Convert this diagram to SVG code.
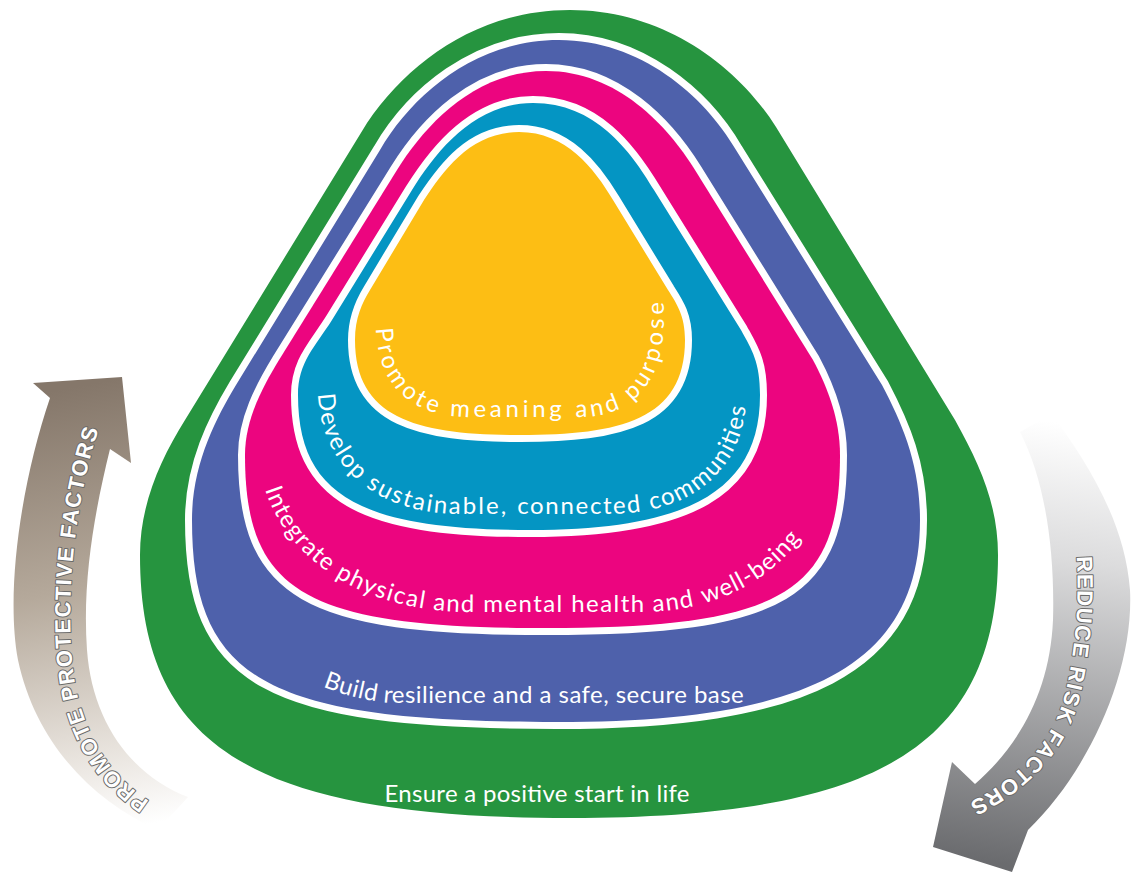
<svg xmlns="http://www.w3.org/2000/svg" width="1135" height="872" viewBox="0 0 1135 872">
<defs>
<style>
.band{stroke:#fff;stroke-width:14;paint-order:stroke;stroke-linejoin:round}
.lbl{font-family:Lato,"Liberation Sans",sans-serif;fill:#fff;font-size:24px}
.arw{font-family:"Liberation Sans",Arial,sans-serif;font-weight:bold;font-size:22px;fill:#fff;stroke:#6a6a6a;stroke-width:2;paint-order:stroke;stroke-linejoin:round}
</style>
<linearGradient id="gL" gradientUnits="userSpaceOnUse" x1="170" y1="820" x2="85" y2="385">
<stop offset="0" stop-color="#ffffff"/>
<stop offset="0.18" stop-color="#e8e3dd"/>
<stop offset="0.55" stop-color="#b5a99b"/>
<stop offset="1" stop-color="#85776a"/>
</linearGradient>
<linearGradient id="gR" gradientUnits="userSpaceOnUse" x1="1040" y1="420" x2="975" y2="860">
<stop offset="0" stop-color="#ffffff"/>
<stop offset="0.3" stop-color="#dcdcdd"/>
<stop offset="1" stop-color="#6a6b6e"/>
</linearGradient>
<path id="tpY" d="M 376,328 C 378,385 410,417 470,417 L 580,417 C 630,417 664,385 664,320 L 664,260"/>
<path id="tpT" d="M 318,392 C 320,470 380,514 460,514 L 610,514 C 690,514 746,470 746,395 L 746,350"/>
<path id="tpM" d="M 262,480 C 285,565 370,612 470,612 L 640,612 C 720,612 785,575 815,515 L 830,485"/>
<path id="tpB" d="M 321,686 Q 355,700 392,703 L 800,703"/>
<path id="tpL" d="M 165,810 C 110,782 78,730 72,660 C 66,590 75,500 100,425 L 110,395"/>
<path id="tpR" d="M 1062,470 C 1082,540 1082,620 1066,690 C 1055,740 1020,778 965,805 L 940,818"/>
</defs>
<rect width="1135" height="872" fill="#ffffff"/>

<g id="arrows">
<path id="arrow-left" d="M 122,377 L 131,463 L 110,449 C 95,510 82,580 87,650 C 92,720 130,775 188,797 L 158,830 C 90,800 35,740 18,660 C 5,590 22,480 50,398 L 33,383 Z" fill="url(#gL)"/>
<path id="arrow-right" d="M 1020,432 L 1052,414 C 1085,460 1125,520 1130,590 C 1134,670 1090,770 1028,830 L 1012,872 L 933,847 L 952,762 L 975,784 C 1020,745 1050,690 1053,620 C 1055,550 1045,480 1020,432 Z" fill="url(#gR)"/>
<text class="arw"><textPath href="#tpL" startOffset="18" textLength="400" lengthAdjust="spacing">PROMOTE PROTECTIVE FACTORS</textPath></text>
<text class="arw"><textPath href="#tpR" startOffset="88" textLength="288" lengthAdjust="spacing">REDUCE RISK FACTORS</textPath></text>
</g>

<g id="green">
<path d="M 570,10 C 480,10 410,60 367,123 L 185,420 C 160,460 140,505 140,555 C 140,745 250,818 570,818 C 880,818 998,745 998,555 C 998,505 980,465 955,420 L 776,127 C 735,62 660,10 570,10 Z" fill="#26943f"/>
<text class="lbl" x="537" y="802" text-anchor="middle" font-size="25" textLength="305" lengthAdjust="spacing">Ensure a positive start in life</text>
</g>

<g id="blue">
<path class="band" d="M 559,40 C 475,40 412,95 380,150 L 236,385 C 215,420 192,465 192,520 C 192,680 266,722 556,722 C 800,722 920,670 920,520 C 920,465 903,425 882,385 L 736,150 C 704,95 640,40 559,40 Z" fill="#4e61ab"/>
<text class="lbl"><textPath href="#tpB" startOffset="2" textLength="423" lengthAdjust="spacing">Build resilience and a safe, secure base</textPath></text>
</g>

<g id="magenta">
<path class="band" d="M 546,71 C 475,71 425,125 397,170 L 279,360 C 262,388 245,420 245,455 C 245,592 305,628 545,628 C 785,628 840,592 840,455 C 840,420 828,388 813,360 L 695,170 C 667,125 617,71 546,71 Z" fill="#ec057f"/>
<text class="lbl"><textPath href="#tpM" startOffset="10" textLength="105" lengthAdjust="spacing">Integrate</textPath></text>
<text class="lbl"><textPath href="#tpM" startOffset="124" textLength="95" lengthAdjust="spacing">physical</textPath></text>
<text class="lbl"><textPath href="#tpM" startOffset="228" textLength="262" lengthAdjust="spacing">and mental health and</textPath></text>
<text class="lbl"><textPath href="#tpM" startOffset="500" textLength="119" lengthAdjust="spacing">well-being</textPath></text>
</g>

<g id="teal">
<path class="band" d="M 533,103 C 475,103 437,150 412,190 L 332,320 C 315,347 298,362 298,395 C 298,495 360,530 530,530 C 690,530 760,490 760,395 C 760,362 752,350 741,330 L 654,190 C 630,150 595,103 533,103 Z" fill="#0495c3"/>
<text class="lbl"><textPath href="#tpT" startOffset="2" textLength="98" lengthAdjust="spacing">Develop</textPath></text>
<text class="lbl"><textPath href="#tpT" startOffset="110" textLength="146" lengthAdjust="spacing">sustainable,</textPath></text>
<text class="lbl"><textPath href="#tpT" startOffset="267" textLength="124" lengthAdjust="spacing">connected</textPath></text>
<text class="lbl"><textPath href="#tpT" startOffset="401" textLength="151" lengthAdjust="spacing">communities</textPath></text>
</g>

<g id="yellow">
<path class="band" d="M 519,132 C 472,132 445,168 424,200 L 370,290 C 362,303 355,318 355,340 C 355,420 420,435 520,435 C 620,435 685,420 685,340 C 685,316 677,304 668,290 L 613,200 C 594,168 566,132 519,132 Z" fill="#fdbe14"/>
<text class="lbl"><textPath href="#tpY" startOffset="0" textLength="420" lengthAdjust="spacing">Promote meaning and purpose</textPath></text>
</g>
</svg>
